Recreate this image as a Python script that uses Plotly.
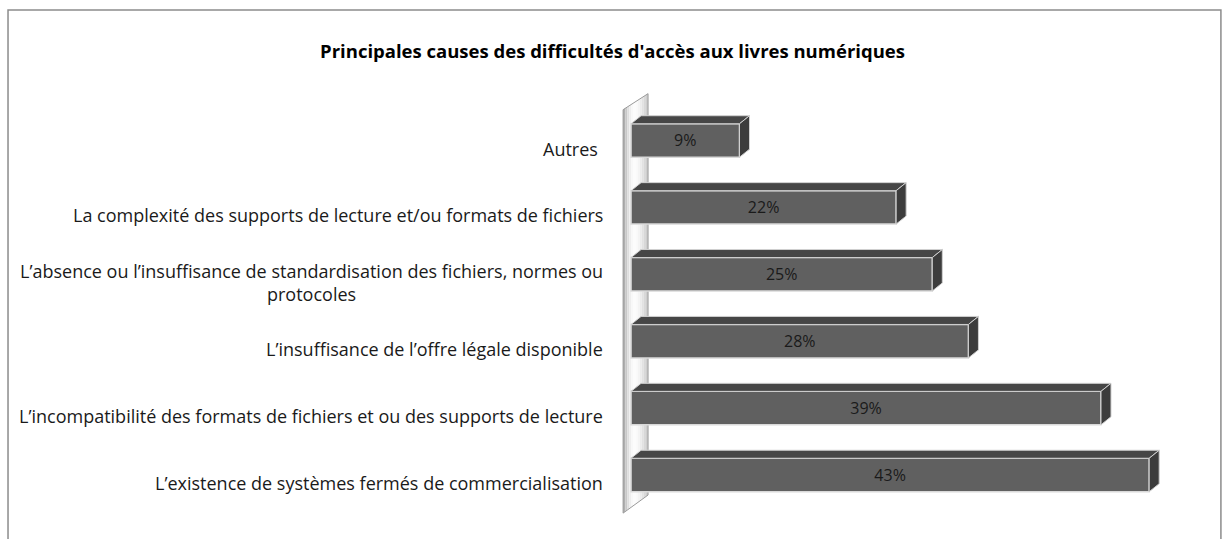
import plotly.graph_objects as go

# categories from bottom to top, as they sit on the chart
categories = [
    "L’existence de systèmes fermés de commercialisation",
    "L’incompatibilité des formats de fichiers et ou des supports de lecture",
    "L’insuffisance de l’offre légale disponible",
    "L’absence ou l’insuffisance de standardisation des fichiers, normes ou<br>protocoles",
    "La complexité des supports de lecture et/ou formats de fichiers",
    "Autres ",
]
values = [43, 39, 28, 25, 22, 9]
labels = [f"{v}%" for v in values]

title = "Principales causes des difficultés d'accès aux livres numériques"

FONT = "Open Sans"
BAR_W = 0.5
DX, DY = 0.83, 0.12   # depth of the fake 3D bars, in axis units
pos = list(range(len(values)))

fig = go.Figure()

# front faces
fig.add_trace(go.Bar(
    x=values, y=pos, orientation="h", width=BAR_W,
    marker=dict(color="#606060", line=dict(color="#d9d9d9", width=1.5)),
    text=labels, textposition="inside", insidetextanchor="middle",
    textfont=dict(family=FONT, size=16, color="#1a1a1a"),
    hoverinfo="skip",
))

# top and side faces
for v, p in zip(values, pos):
    top, bot = p + BAR_W / 2, p - BAR_W / 2
    fig.add_trace(go.Scatter(
        x=[0, v, v + DX, DX, 0], y=[top, top, top + DY, top + DY, top],
        fill="toself", fillcolor="#464646", mode="lines",
        line=dict(color="#d0d0d0", width=1), hoverinfo="skip",
    ))
    fig.add_trace(go.Scatter(
        x=[v, v + DX, v + DX, v, v], y=[bot, bot + DY, top + DY, top, bot],
        fill="toself", fillcolor="#3c3c3c", mode="lines",
        line=dict(color="#d0d0d0", width=1), hoverinfo="skip",
    ))

# the left wall, a few strips to fake the gradient
xl, xr = -0.66, 1.41
ytl, ytr, ybl, ybr = 5.46, 5.70, -0.57, -0.30
grays = [175, 200, 222, 238, 248, 252, 250, 244, 236, 226, 216, 206]
n = len(grays)
shapes = []
for i, g in enumerate(grays):
    f0, f1 = i / n, (i + 1) / n
    xa, xb = xl + f0 * (xr - xl), xl + f1 * (xr - xl)
    ta, tb = ytl + f0 * (ytr - ytl), ytl + f1 * (ytr - ytl)
    ba, bb = ybl + f0 * (ybr - ybl), ybl + f1 * (ybr - ybl)
    shapes.append(dict(
        type="path", xref="x", yref="y", layer="below",
        path=f"M{xa},{ba} L{xa},{ta} L{xb},{tb} L{xb},{bb} Z",
        fillcolor=f"rgb({g},{g},{g})", line=dict(width=0),
    ))
shapes.append(dict(
    type="path", xref="x", yref="y", layer="below",
    path=f"M{xl},{ybl} L{xl},{ytl} L{xr},{ytr} L{xr},{ybr} Z",
    fillcolor="rgba(0,0,0,0)", line=dict(color="#9a9a9a", width=1),
))
# chart frame
shapes.append(dict(
    type="rect", xref="paper", yref="paper",
    x0=-1.0516, x1=1.036, y0=-0.1, y1=1.1538,
    line=dict(color="#8c8c8c", width=1.5),
))

annotations = [
    dict(x=-1, y=p - 0.12, xref="x", yref="y", text=c, showarrow=False,
         xanchor="right", xshift=-14, align="center",
         font=dict(family=FONT, size=18, color="#1a1a1a"))
    for c, p in zip(categories, pos)
]

fig.update_layout(
    width=1225, height=539,
    margin=dict(l=619, r=25, t=80, b=4),
    paper_bgcolor="white", plot_bgcolor="rgba(0,0,0,0)",
    showlegend=False,
    title=dict(text=f"<b>{title}</b>", x=0.5, xanchor="center",
               y=1 - 52 / 539, yanchor="middle",
               font=dict(family=FONT, size=18.5, color="black")),
    xaxis=dict(range=[-1, -1 + 581 / 12.05], visible=False),
    yaxis=dict(range=[-0.897, 5.904], visible=False),
    shapes=shapes, annotations=annotations,
)

# the page has a default 8px body margin; drop it so the figure sits at 0,0
fig.write_html("out.html", config={"displayModeBar": False},
               post_script="document.body.style.margin='0';")
